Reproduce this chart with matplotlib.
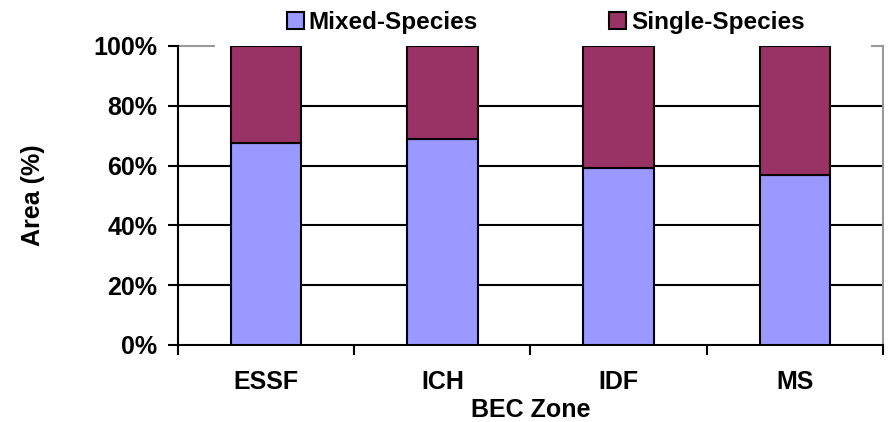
import matplotlib
matplotlib.use("Agg")
import matplotlib.pyplot as plt
from matplotlib.patches import Patch
from matplotlib.ticker import FixedLocator, PercentFormatter

matplotlib.rc("font", family="Liberation Sans", weight="bold", size=18)
matplotlib.rc("axes", labelweight="bold")

zones = ["ESSF", "ICH", "IDF", "MS"]
mixed = [67.6, 68.9, 59.3, 56.9]
single = [100 - m for m in mixed]

MIXED_COLOR = "#9999FF"
SINGLE_COLOR = "#993366"


def plot():
    fig = plt.figure(figsize=(8.9, 4.22), dpi=100)
    ax = fig.add_axes([0.2, 0.1825, 0.792, 0.7085])

    x = range(len(zones))
    ax.bar(x, mixed, width=0.4, color=MIXED_COLOR, edgecolor="black", linewidth=1.5, zorder=3)
    ax.bar(x, single, width=0.4, bottom=mixed, color=SINGLE_COLOR, edgecolor="black", linewidth=1.5, zorder=3)

    ax.set_xlim(-0.5, len(zones) - 0.5)
    ax.set_ylim(0, 100)

    # category boundaries carry the tick marks, centres carry the labels
    ax.xaxis.set_major_locator(FixedLocator([i - 0.5 for i in range(len(zones) + 1)]))
    ax.xaxis.set_minor_locator(FixedLocator(list(x)))
    ax.set_xticklabels([], minor=False)
    ax.set_xticklabels(zones, minor=True)
    ax.tick_params(axis="x", which="major", direction="out", length=7.5, width=1.5, color="black")
    ax.tick_params(axis="x", which="minor", length=0, pad=18)

    ax.set_yticks(range(0, 101, 20))
    ax.yaxis.set_major_formatter(PercentFormatter(decimals=0))
    ax.tick_params(axis="y", direction="out", length=7, width=1.5, pad=8)

    for yv in range(20, 100, 20):
        ax.axhline(yv, color="black", linewidth=1.5, zorder=1)

    for side in ["left", "bottom"]:
        ax.spines[side].set_linewidth(1.5)
        ax.spines[side].set_color("black")
    ax.spines["right"].set_color("#999999")
    ax.spines["right"].set_linewidth(1.5)
    ax.spines["top"].set_visible(False)
    # plot-area border shows only at the two ends, the legend sits over the rest
    ax.hlines(100, -0.5, -0.29, color="#999999", linewidth=1.5, clip_on=False)
    ax.hlines(100, 3.43, 3.5, color="#999999", linewidth=1.5, clip_on=False)

    ax.set_xlabel("BEC Zone")
    ax.set_ylabel("Area (%)")
    ax.xaxis.set_label_coords(0.5, -0.177)
    ax.yaxis.set_label_coords(-0.188, 0.5)

    handles = [
        Patch(facecolor=MIXED_COLOR, edgecolor="black", linewidth=1.5, label="Mixed-Species"),
        Patch(facecolor=SINGLE_COLOR, edgecolor="black", linewidth=1.5, label="Single-Species"),
    ]
    fig.legend(handles=handles, loc="center", bbox_to_anchor=(0.613, 0.947), ncol=2,
               frameon=False, handlelength=0.7, handleheight=0.7, handletextpad=0.2,
               columnspacing=5.4, fontsize=17.5)

    fig.savefig("out.png", dpi=100)


if __name__ == "__main__":
    plot()
